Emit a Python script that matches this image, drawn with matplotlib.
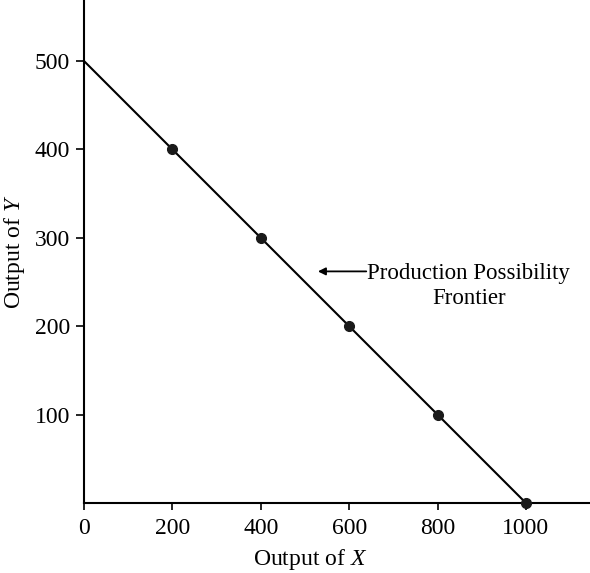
import matplotlib.pyplot as plt

plt.rcParams['font.family'] = 'Liberation Serif'
plt.rcParams['mathtext.fontset'] = 'custom'
plt.rcParams['mathtext.rm'] = 'Liberation Serif'
plt.rcParams['mathtext.it'] = 'Liberation Serif:italic'

# Données de la frontière
x_line = [0, 1000]
y_line = [500, 0]
x_pts = [200, 400, 600, 800, 1000]
y_pts = [400, 300, 200, 100, 0]
x_ticks = [0, 200, 400, 600, 800, 1000]
y_ticks = [100, 200, 300, 400, 500]

fig = plt.figure(figsize=(5.9, 5.73), dpi=100)
ax = fig.add_axes([84 / 590, 70 / 573, 1 - 84 / 590, 1 - 70 / 573])

ax.plot(x_line, y_line, color='black', lw=1.5, clip_on=False)
ax.plot(x_pts, y_pts, 'o', color='#1a1a1a', ms=7, clip_on=False, zorder=3)

ax.set_xlim(0, 1145)
ax.set_ylim(0, 569)
ax.spines['top'].set_visible(False)
ax.spines['right'].set_visible(False)
for s in ('left', 'bottom'):
    ax.spines[s].set_linewidth(1.5)

ax.set_xticks(x_ticks)
ax.set_yticks(y_ticks)
ax.tick_params(labelsize=17, width=1.2, length=6, pad=4)
ax.tick_params(axis='x', length=5, pad=6)

ax.set_xlabel('Output of $\\it{X}$', fontsize=17)
ax.set_ylabel('Output of $\\it{Y}$', fontsize=17)
ax.xaxis.set_label_coords(0.447, -0.112)
ax.yaxis.set_label_coords(-0.138, 0.5)
ax.xaxis.label.set_va('center')
ax.yaxis.label.set_va('center')

ax.annotate('', xy=(523, 262), xytext=(645, 262),
            arrowprops=dict(arrowstyle='-|>', color='black', lw=1.3,
                            mutation_scale=11))
ax.text(871, 271, 'Production Possibility\nFrontier', fontsize=16.5,
        ha='center', va='top', linespacing=1.2, transform=ax.transData)

fig.savefig('out.png', dpi=100)
